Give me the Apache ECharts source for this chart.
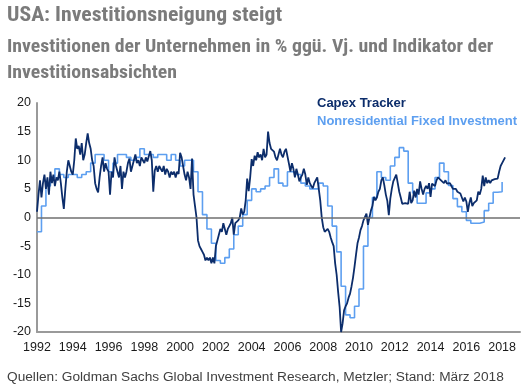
<!DOCTYPE html>
<html><head><meta charset="utf-8">
<script src="https://cdn.jsdelivr.net/npm/echarts@6/dist/echarts.min.js"></script>
<style>html,body{margin:0;padding:0;background:#fff}#c{width:526px;height:391px}</style>
</head><body><div id="c"></div>
<script>
const title = "USA: Investitionsneigung steigt";
const subtitle = "Investitionen der Unternehmen in % ggü. Vj. und Indikator der\nInvestitionsabsichten";
const source = "Quellen: Goldman Sachs Global Investment Research, Metzler; Stand: März 2018";
const seriesNames = ["Capex Tracker", "Nonresidential Fixed Investment"];
const yTicks = [-20, -15, -10, -5, 0, 5, 10, 15, 20];
const xTickYears = [1992,1994,1996,1998,2000,2002,2004,2006,2008,2010,2012,2014,2016,2018];

// Capex Tracker, monthly values, Jan 1992 onwards
const capexStartYear = 1992;
const capexMonthly = [
  // 1992
  1, 4, 6.5, 3.5, 6, 7.5, 5, 7, 4, 8, 6, 7.5,
  // 1993
  5.5, 7, 6.5, 8, 6, 3.5, 1.5, 5, 8, 10, 9, 8,
  // 1994
  7.5, 10, 13.8, 12, 12.5, 11, 13, 10, 11, 13, 14.7, 13,
  // 1995
  12, 10, 9, 6, 5, 4.4, 7, 9, 10.5, 8, 9.5, 8.5,
  // 1996
  8, 4, 8, 7, 10.5, 9, 8, 7, 9, 5, 8, 7,
  // 1997
  8, 9.5, 10.3, 8, 9, 10, 11, 9.5, 10, 9, 10.5, 10,
  // 1998
  9.5, 10.5, 9.8, 10, 11.6, 10, 4.5, 8.2, 9, 8, 9, 8.7,
  // 1999
  8, 9, 7.5, 8.5, 8, 7, 8, 7.5, 8, 7, 8, 7.6,
  // 2000
  11.3, 10.5, 9, 7.5, 6.5, 8, 7, 5, 10.3, 4, 2, 0,
  // 2001
  -4, -5, -5.5, -6, -6.5, -7.5, -7, -7.5, -7, -8, -7, -8,
  // 2002
  -5, -4, -3, -2, -2.5, -1, -2, -3, -2, -1.5, -1, 0,
  // 2003
  -3, -1, -1, -0.5, 0, 1.6, 0.5, 1, 3, 6.8, 4.6, 7,
  // 2004
  10.2, 9, 10.8, 10, 11.4, 10.5, 11, 10, 12, 10.5, 11, 15,
  // 2005
  13, 12, 12, 11.5, 10.5, 10, 11, 12, 11, 10.5, 11.5, 12,
  // 2006
  12, 9.4, 8, 9.5, 8.5, 7, 8.5, 7.5, 6.3, 7, 7.5, 8.5,
  // 2007
  7.5, 5.7, 7, 6, 5.5, 5.1, 6, 6.2, 7, 5, 3, 0,
  // 2008
  -1.7, -2.5, -2.8, -2, -2.5, -3.5, -4.3, -5, -8, -10, -13, -15.6,
  // 2009
  -20, -18.5, -16.2, -15.5, -15, -14, -13.3, -12, -10.5, -8.6, -6.5, -4.5,
  // 2010
  -3.5, -2.2, -1.5, -0.5, -0.2, 0.7, -1.3, 0, 1.2, 2, 3.6, 3,
  // 2011
  3.5, 4.5, 5, 6.5, 7, 5.6, 4, 2.9, 0.4, 3.3, 5, 6.3,
  // 2012
  6.3, 7.5, 6, 4.5, 3.5, 2.4, 2.4, 2.5, 2.4, 2.4, 4.5, 2.5,
  // 2013
  3, 4.7, 3.5, 5, 4, 6.3, 5, 4, 5, 5.5, 5, 6,
  // 2014
  3.6, 5.9, 6, 5.5, 6.5, 7, 7.3, 6.5, 6.5, 6, 6.5, 5.9,
  // 2015
  5.9, 6, 5.5, 5, 4.8, 5, 4.5, 4.8, 4.2, 3.5, 2.8, 3.5,
  // 2016
  2.8, 1.0, 2.5, 3.5, 2, 2.5, 2.3, 3, 4.5, 4, 5, 7.3,
  // 2017
  5.5, 7, 6, 6.5, 6, 6.5, 6.5, 6.7, 7, 6.8, 8, 9,
  // 2018
  9.5, 9.5, 10.5
];

// Nonresidential Fixed Investment, quarterly values, Q1 1992 onwards
const nrfiStartYear = 1992;
const nrfiQuarterly = [
  // 1992
  -2.5, 2, 5.5, 7,
  // 1993
  8.5, 7.5, 7, 7.5,
  // 1994
  7.5, 7, 7.5, 8,
  // 1995
  9.5, 11, 11, 10,
  // 1996
  8, 9.5, 11, 11,
  // 1997
  10.5, 10, 10.5, 12,
  // 1998
  11, 11, 10.5, 11,
  // 1999
  11, 10, 11, 10,
  // 2000
  9, 10, 10, 8,
  // 2001
  4.5, 0.5, -2, -4.5,
  // 2002
  -7.5, -8, -7, -5.5,
  // 2003
  -3, -1.5, 0.5, 3,
  // 2004
  5, 4.5, 5, 5.5,
  // 2005
  7, 8.5, 6, 5.5,
  // 2006
  8, 8, 7.5, 6,
  // 2007
  5.5, 5, 5, 6,
  // 2008
  5.5, 2, -1.5, -6,
  // 2009
  -12, -17, -17.5, -15.5,
  // 2010
  -12.5, -5, 0, 3.5,
  // 2011
  8, 7, 6.5, 9,
  // 2012
  10.5, 12.2, 11.6, 6,
  // 2013
  4.3, 2.5, 2.5, 4.3,
  // 2014
  5, 7, 9.5, 8,
  // 2015
  5.6, 3.3, 1.9, 1,
  // 2016
  -0.5, -1, -1, -0.8,
  // 2017
  1.2, 2.5, 4.4, 4.5,
  // 2018
  6.2
];

const capexData = capexMonthly.map((v, i) => [capexStartYear + i / 12, v]);
const nrfiData = nrfiQuarterly.map((v, i) => [nrfiStartYear + i / 4, v]);

const chart = echarts.init(document.getElementById('c'), null, {renderer: 'canvas'});
const narrow = "'Liberation Sans Narrow','Roboto Condensed','Arial Narrow',sans-serif";
const sans = "'Liberation Sans',Arial,Helvetica,sans-serif";
chart.setOption({
  animation: false,
  backgroundColor: '#ffffff',
  grid: {left: 37, right: 6, top: 103, bottom: 59, containLabel: false},
  xAxis: {
    type: 'value', min: 1992, max: 2019, interval: 2,
    axisLine: {show: true, onZero: false, lineStyle: {color: '#9a9a9a', width: 2}},
    axisTick: {show: false},
    splitLine: {show: false},
    axisLabel: {color: '#1a1a1a', fontSize: 12.5, fontFamily: sans, margin: 9,
      formatter: v => xTickYears.includes(v) ? String(v) : ''}
  },
  yAxis: {
    type: 'value', min: -20, max: 20, interval: 5,
    axisLine: {show: true, lineStyle: {color: '#9a9a9a', width: 2}},
    axisTick: {show: false},
    splitLine: {show: false},
    axisLabel: {color: '#1a1a1a', fontSize: 12.5, fontFamily: sans, margin: 6,
      formatter: v => yTicks.includes(v) ? String(v) : ''}
  },
  series: [
    {
      name: seriesNames[1], type: 'line', data: nrfiData, step: 'end',
      showSymbol: false, lineStyle: {color: '#5d9ff0', width: 1.6}, z: 2,
      markLine: {silent: true, symbol: 'none', label: {show: false},
        lineStyle: {color: '#6f6f6f', width: 1.5, type: 'solid'},
        data: [{yAxis: 0}]}
    },
    {
      name: seriesNames[0], type: 'line', data: capexData,
      showSymbol: false, lineStyle: {color: '#0c2d6b', width: 1.8}, z: 3
    }
  ],
  graphic: [
    {type: 'text', x: 7, y: 6, scaleX: 1.087, style: {text: title, fill: '#7b7b7b', font: "bold 20px " + narrow}},
    {type: 'text', x: 7, y: 35, scaleX: 1.13, style: {text: subtitle, fill: '#7b7b7b', font: "bold 17.5px " + narrow, lineHeight: 26}},
    {type: 'text', x: 317, y: 97, style: {text: seriesNames[0], fill: '#0c2d6b', font: "bold 13px " + sans}},
    {type: 'text', x: 317, y: 115, style: {text: seriesNames[1], fill: '#5d9ff0', font: "bold 13px " + sans}},
    {type: 'text', x: 7, y: 370, style: {text: source, fill: '#404040', font: "13.7px " + sans}}
  ]
});
</script></body></html>
